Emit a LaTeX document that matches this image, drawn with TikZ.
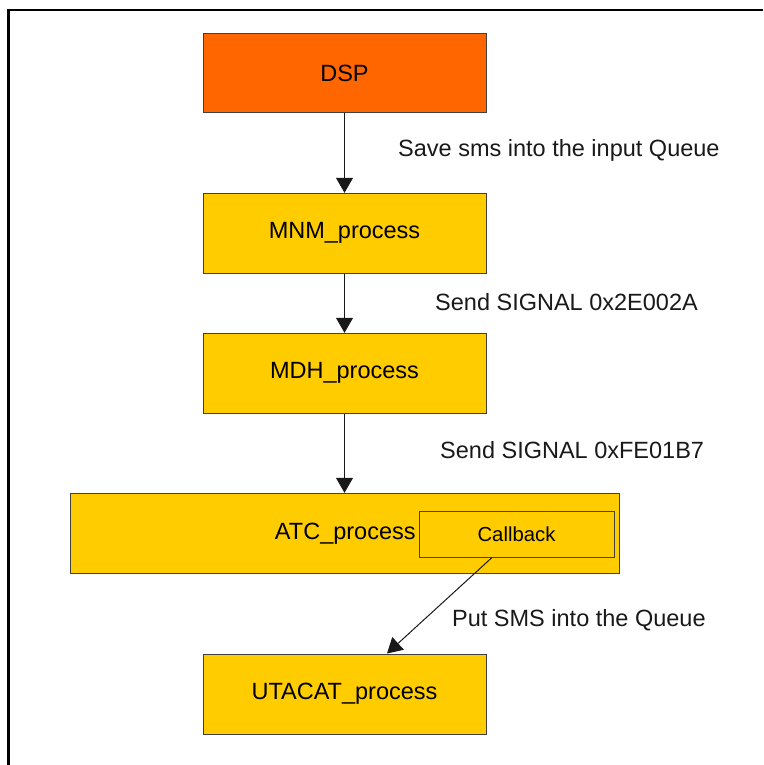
\documentclass[tikz,border=0pt]{standalone}
\usepackage{fontspec}
\setmainfont{Liberation Sans}
\usetikzlibrary{arrows.meta}
\definecolor{dsporange}{HTML}{FF6600}
\definecolor{procyellow}{HTML}{FFCC00}
\definecolor{boxline}{HTML}{404040}
\begin{document}
\begin{tikzpicture}[x=1pt,y=1pt,
  proc/.style={draw=boxline, line width=1pt, fill=procyellow, inner sep=0pt,
    minimum width=283pt, minimum height=80pt, font=\fontsize{23.5}{28}\selectfont},
  lbl/.style={anchor=west, inner sep=0pt, text=black!90, font=\fontsize{23.5}{28}\selectfont},
  flow/.style={draw=black!90, line width=1pt, -{Triangle[width=17pt,length=15pt]}}]
\useasboundingbox (0,0) rectangle (763,-765);
% frame
\draw[line width=2.5pt] (8.5,-765) -- (8.5,-10) -- (763,-10);
% boxes
\node[proc, fill=dsporange, minimum height=79pt] (dsp) at (344.5,-73.5) {DSP};
\node[proc] (mnm) at (344.5,-233.3) {MNM\_process};
\node[proc] (mdh) at (344.5,-373.3) {MDH\_process};
\node[proc, minimum width=549pt] (atc) at (345.3,-533.3) {ATC\_process};
\node[draw=boxline, line width=1pt, fill=procyellow, inner sep=0pt, minimum width=195pt,
  minimum height=46pt, font=\fontsize{20.3}{24}\selectfont] (cb) at (516.5,-534) {Callback};
\node[proc] (uta) at (344.5,-694) {UTACAT\_process};
% connectors
\draw[flow] (dsp.south) -- (mnm.north);
\draw[flow] (mnm.south) -- (mdh.north);
\draw[flow] (mdh.south) -- (atc.north -| mdh.south);
\draw[flow] ([xshift=-24.5pt]cb.south) -- ([xshift=42.5pt]uta.north);
% labels
\node[lbl] (l1) at (398,-150) {Save sms into the input Queue};
\node[lbl] (l2) at (435,-302) {Send SIGNAL 0x2E002A};
\node[lbl] (l3) at (440,-450) {Send SIGNAL 0xFE01B7};
\node[lbl] (l4) at (452,-620) {Put SMS into the Queue};
\end{tikzpicture}
\end{document}
